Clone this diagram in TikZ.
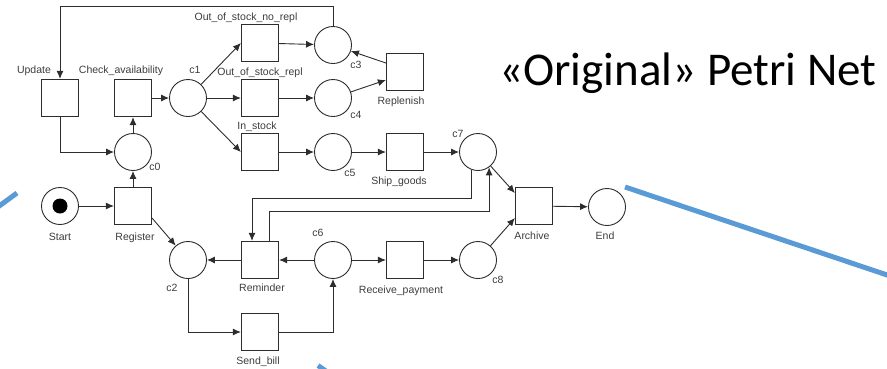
\documentclass[tikz,border=0pt]{standalone}
\usepackage{fontspec}
\setmainfont{Liberation Sans}
\newfontfamily\titlefont{Carlito}
\usetikzlibrary{arrows.meta}
\definecolor{ln}{RGB}{45,45,45}
\definecolor{tx}{RGB}{60,60,60}
\definecolor{blu}{RGB}{91,155,213}
\begin{document}
\begin{tikzpicture}[x=1pt,y=-1pt,
  trans/.style={draw=ln,line width=1.2pt,rectangle,minimum size=37pt,inner sep=0pt},
  place/.style={draw=ln,line width=0.9pt,circle,minimum size=37pt,inner sep=0pt},
  lbl/.style={anchor=base,text=tx,font=\fontsize{10.5}{12}\selectfont,inner sep=0pt},
  arc/.style={draw=ln,line width=0.9pt,-{Latex[length=8pt,width=7pt]}},
  bluel/.style={draw=blu,line width=5pt}]
\useasboundingbox (0,0) rectangle (887,368);
\begin{scope}
\clip (0,0) rectangle (887,368);
\draw[bluel] (-20,220) -- (17,193);
\draw[bluel] (625,187) -- (905,281);
\draw[bluel] (318,365.5) -- (330,374);
\end{scope}
% places and transitions
\node[trans] (Update) at (60,98) {};
\node[trans] (Check) at (133,98) {};
\node[place] (c1) at (188,98) {};
\node[trans] (OOSnr) at (260,43) {};
\node[trans] (OOSr) at (260,98) {};
\node[trans] (InStock) at (260,152) {};
\node[place] (c0) at (133,152) {};
\node[place] (Start) at (60,206) {};
\node[circle,fill=black,minimum size=15pt,inner sep=0pt] (tok) at (60,206) {};
\node[trans] (Register) at (133,206) {};
\node[place] (c2) at (188,260) {};
\node[trans] (Reminder) at (260,260) {};
\node[trans] (Sendbill) at (260,332) {};
\node[place] (c3) at (333,45) {};
\node[trans] (Replenish) at (405,72) {};
\node[place] (c4) at (333,98) {};
\node[place] (c5) at (333,152) {};
\node[trans] (Ship) at (405,152) {};
\node[place] (c7) at (478,152) {};
\node[trans] (Archive) at (534,206) {};
\node[place] (End) at (607,207) {};
\node[place] (c6) at (333,260) {};
\node[trans] (Receive) at (405,260) {};
\node[place] (c8) at (478,260) {};
% labels
\node[lbl] (lUpdate) at (34,73) {Update};
\node[lbl] (lCheck) at (121,73) {Check\_availability};
\node[lbl] (lc1) at (195,73) {c1};
\node[lbl] (lOOSnr) at (246,20) {Out\_of\_stock\_no\_repl};
\node[lbl] (lOOSr) at (260,75) {Out\_of\_stock\_repl};
\node[lbl] (lInStock) at (257,129) {In\_stock};
\node[lbl] (lc0) at (155,170) {c0};
\node[lbl] (lStart) at (60,240) {Start};
\node[lbl] (lRegister) at (135,240) {Register};
\node[lbl] (lc2) at (172,291) {c2};
\node[lbl] (lReminder) at (262,291) {Reminder};
\node[lbl] (lSendbill) at (258,364) {Send\_bill};
\node[lbl] (lc3) at (356,68) {c3};
\node[lbl] (lc4) at (356,118) {c4};
\node[lbl] (lc5) at (350,176) {c5};
\node[lbl] (lShip) at (399,184) {Ship\_goods};
\node[lbl] (lReplenish) at (401,104) {Replenish};
\node[lbl] (lc7) at (458,137) {c7};
\node[lbl] (lc6) at (318,236) {c6};
\node[lbl] (lReceive) at (401,293) {Receive\_payment};
\node[lbl] (lc8) at (498,283) {c8};
\node[lbl] (lArchive) at (532,239) {Archive};
\node[lbl] (lEnd) at (605,239) {End};
\node[anchor=base,inner sep=0pt,font=\titlefont\fontsize{47}{56}\selectfont] (title) at (688,85) {«Original» Petri Net};
% arcs
\coordinate (top) at (60,6);
\draw[arc] (c3.north) |- (top) -- (Update.north);
\draw[arc] (Update.south) |- (c0.west);
\draw[arc] (c0) -- (Check);
\draw[arc] (Register) -- (c0);
\draw[arc] (Start) -- (Register);
\draw[arc] (Check) -- (c1);
\draw[arc] (c1) -- (OOSnr.west);
\draw[arc] (c1) -- (OOSr);
\draw[arc] (c1) -- (InStock.west);
\draw[arc] (OOSnr) -- (c3);
\draw[arc] (OOSr) -- (c4);
\draw[arc] (InStock) -- (c5);
\draw[arc] ([yshift=9pt]Replenish.west) -- (c3);
\draw[arc] (c4) -- ([yshift=-8pt]Replenish.west);
\draw[arc] (c5) -- (Ship);
\draw[arc] (Ship) -- (c7);
\draw[arc] (c7) -- ([yshift=13pt]Archive.west);
\draw[arc] (c8) -- ([yshift=-12pt]Archive.west);
\draw[arc] (Archive) -- (End);
\draw[arc] ([yshift=7pt]Register.south east) -- (c2);
\draw[arc] (Reminder) -- (c2);
\draw[arc] (c2.south) |- (Sendbill.west);
\draw[arc] (Sendbill.east) -| (c6.south);
\draw[arc] (c6) -- (Reminder);
\draw[arc] (c6) -- (Receive);
\draw[arc] (Receive) -- (c8);
\coordinate (h1) at (252,198);
\coordinate (h2) at (269,211);
\draw[arc] (c7.251) |- (h1) -- (h1 |- Reminder.north);
\draw[arc] (h2 |- Reminder.north) -- (h2) -| (c7.306);
\end{tikzpicture}
\end{document}
